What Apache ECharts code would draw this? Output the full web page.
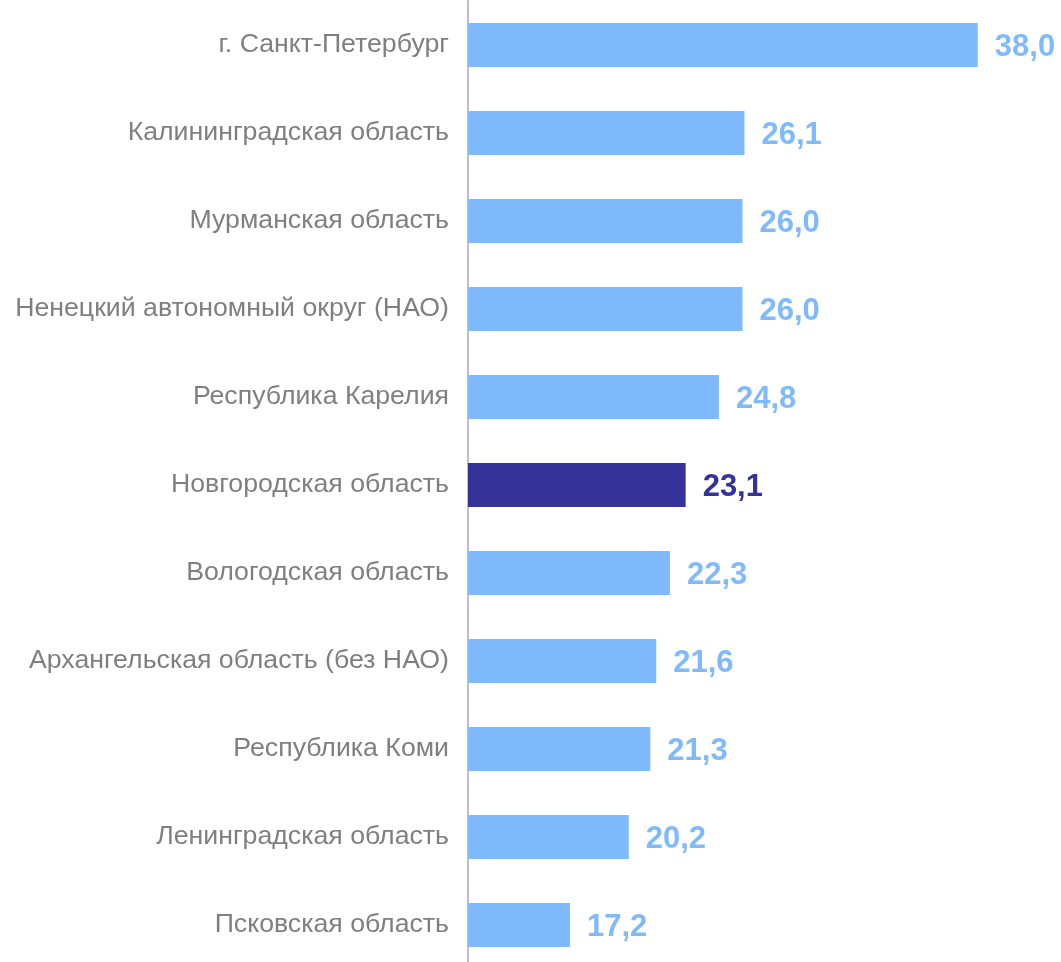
<!DOCTYPE html>
<html>
<head>
<meta charset="utf-8">
<script src="https://cdn.jsdelivr.net/npm/echarts@6/dist/echarts.min.js"></script>
<style>
  html, body { margin: 0; padding: 0; background: #fff; }
  #chart { width: 1061px; height: 962px; }
</style>
</head>
<body>
<div id="chart"></div>
<script>
// регионы СЗФО, сверху вниз
const regions = [
  'г. Санкт-Петербург',
  'Калининградская область',
  'Мурманская область',
  'Ненецкий автономный округ (НАО)',
  'Республика Карелия',
  'Новгородская область',
  'Вологодская область',
  'Архангельская область (без НАО)',
  'Республика Коми',
  'Ленинградская область',
  'Псковская область'
];
const values = [38.0, 26.1, 26.0, 26.0, 24.8, 23.1, 22.3, 21.6, 21.3, 20.2, 17.2];
const highlight = 'Новгородская область';

const light = '#7FBAFD';
const dark = '#333399';

const chart = echarts.init(document.getElementById('chart'));
chart.setOption({
  animation: false,
  grid: { left: 468, right: 44, top: 1, height: 968, containLabel: false, outerBoundsMode: 'none' },
  xAxis: {
    type: 'value',
    min: 12,
    max: 40,
    show: false
  },
  yAxis: {
    type: 'category',
    inverse: true,
    data: regions,
    axisLine: { lineStyle: { color: '#BFBFBF', width: 2 } },
    axisTick: { show: false },
    axisLabel: {
      color: '#7F7F7F',
      fontSize: 26.7,
      fontFamily: 'Liberation Sans, Arial, sans-serif',
      margin: 19
    }
  },
  series: [{
    type: 'bar',
    barWidth: '50%',
    data: values.map((v, i) => ({
      value: v,
      itemStyle: { color: regions[i] === highlight ? dark : light },
      label: { color: regions[i] === highlight ? dark : light }
    })),
    label: {
      show: true,
      position: 'right',
      distance: 17,
      fontSize: 31,
      fontWeight: 'bold',
      fontFamily: 'Liberation Sans, Arial, sans-serif',
      offset: [0, 2],
      formatter: p => p.value.toFixed(1).replace('.', ',')
    }
  }]
});
</script>
</body>
</html>
